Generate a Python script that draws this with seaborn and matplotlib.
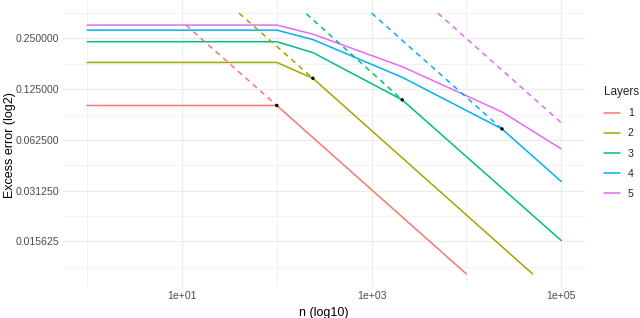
import numpy as np
import pandas as pd
import matplotlib
matplotlib.use("Agg")
import matplotlib.pyplot as plt
import seaborn as sns


LAYERS = ["1", "2", "3", "4", "5"]
COLORS = ["#F8766D", "#A3A500", "#00BF7D", "#00B0F6", "#E76BF3"]

# solid curves (n, excess error), one list per layer
solid_n = [
    [1, 100, 10000],
    [1, 100, 240, 50000],
    [1, 100, 240, 2100, 100000],
    [1, 100, 240, 2100, 23700, 100000],
    [1, 100, 240, 2100, 23700, 100000],
]
solid_err = [
    [0.100, 0.100, 0.0100],
    [0.180, 0.180, 0.145, 0.0100],
    [0.239, 0.239, 0.206, 0.108, 0.0158],
    [0.280, 0.280, 0.246, 0.147, 0.0726, 0.0354],
    [0.300, 0.300, 0.265, 0.170, 0.0916, 0.0553],
]

# dashed asymptotes
dash_n = [
    [11, 100],
    [40, 240],
    [205, 2100],
    [1000, 23700],
    [5000, 100000],
]
dash_err = [
    [0.300, 0.100],
    [0.353, 0.145],
    [0.350, 0.108],
    [0.353, 0.0726],
    [0.353, 0.079],
]

# black transition points
point_n = [100, 240, 2100, 23700]
point_err = [0.100, 0.145, 0.108, 0.0726]

x_major = [10, 1000, 100000]
x_major_labels = ["1e+01", "1e+03", "1e+05"]
x_minor = [1, 100, 10000]
y_major = [0.015625, 0.03125, 0.0625, 0.125, 0.25]
y_minor = [2 ** -6.5, 2 ** -5.5, 2 ** -4.5, 2 ** -3.5, 2 ** -2.5, 2 ** -1.5]


def long_frame(ns, errs):
    rows = []
    for layer, n_list, e_list in zip(LAYERS, ns, errs):
        for n, e in zip(n_list, e_list):
            rows.append((layer, n, e))
    return pd.DataFrame(rows, columns=["Layers", "n", "err"])


def main() -> None:
    sns.set_theme(style="white")
    plt.rcParams["font.family"] = ["Liberation Sans", "DejaVu Sans"]

    fig = plt.figure(figsize=(6.4, 3.18), dpi=100)
    ax = fig.add_axes([0.0992, 0.0975, 0.8148, 0.9025])

    solid = long_frame(solid_n, solid_err)
    dashed = long_frame(dash_n, dash_err)
    palette = dict(zip(LAYERS, COLORS))

    sns.lineplot(data=solid, x="n", y="err", hue="Layers", palette=palette,
                 estimator=None, sort=False, linewidth=1.1, ax=ax)
    before = len(ax.lines)
    sns.lineplot(data=dashed, x="n", y="err", hue="Layers", palette=palette,
                 estimator=None, sort=False, linewidth=1.1, ax=ax, legend=False,
                 dashes=False)
    for line in ax.lines[before:]:
        line.set_dashes((3.5, 3.0))
    sns.scatterplot(x=point_n, y=point_err, color="black", s=6,
                    edgecolor="none", ax=ax, zorder=5)

    ax.set_xscale("log")
    ax.set_yscale("log", base=2)
    ax.set_xlim(10 ** -0.25, 10 ** 5.25)
    ax.set_ylim(2 ** -6.9, 2 ** -1.243)

    ax.set_xticks(x_major)
    ax.set_xticklabels(x_major_labels)
    ax.set_xticks(x_minor, minor=True)
    ax.set_yticks(y_major)
    ax.set_yticklabels([f"{v:.6f}" for v in y_major])
    ax.set_yticks(y_minor, minor=True)
    ax.tick_params(which="both", length=0, labelsize=7.6, labelcolor="#4D4D4D", pad=3)
    ax.xaxis.set_minor_formatter(matplotlib.ticker.NullFormatter())
    ax.yaxis.set_minor_formatter(matplotlib.ticker.NullFormatter())

    ax.grid(which="major", color="#EBEBEB", linewidth=0.8)
    ax.grid(which="minor", color="#EBEBEB", linewidth=0.45)
    ax.set_axisbelow(True)
    for s in ax.spines.values():
        s.set_visible(False)

    ax.set_xlabel("n (log10)", fontsize=9, color="black", labelpad=4)
    ax.set_ylabel("")
    fig.text(10 / 640, 1 - 145 / 318, "Excess error (log2)", rotation=90,
             fontsize=9, color="black", ha="center", va="center")

    handles, labels = ax.get_legend_handles_labels()
    leg = ax.legend(handles, labels, title="Layers", loc="upper left",
                    bbox_to_anchor=(604 / 640, 1 - 86 / 318),
                    bbox_transform=fig.transFigure, frameon=False,
                    fontsize=7.6, title_fontsize=8.5, handlelength=1.5,
                    handletextpad=0.75, labelspacing=0.97, borderpad=0,
                    borderaxespad=0, alignment="left")
    for h in leg.get_lines():
        h.set_linewidth(1.1)
        h.set_linestyle("-")

    fig.savefig("out.png", dpi=100)
    plt.close(fig)


if __name__ == "__main__":
    main()
